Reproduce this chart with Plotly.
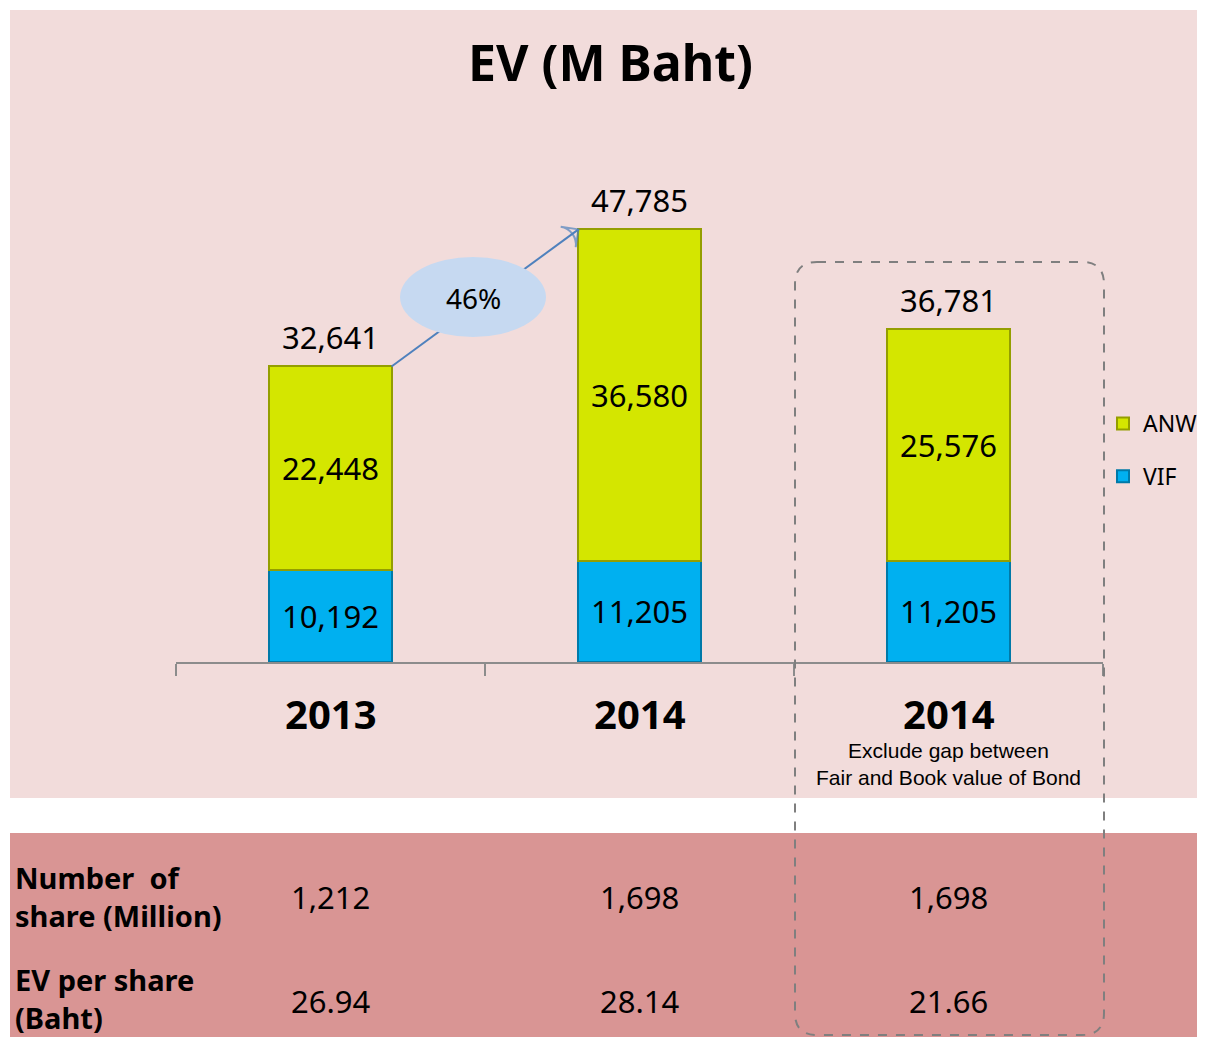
import plotly.graph_objects as go

# data
categories = ["2013", "2014", "2014"]
vif = [10192, 11205, 11205]
anw = [22448, 36580, 25576]
totals = [32641, 47785, 36781]
growth_label = "46%"
shares_million = ["1,212", "1,698", "1,698"]
ev_per_share = ["26.94", "28.14", "21.66"]
note_third = "Exclude gap between<br>Fair and Book value of Bond"

# the page puts the figure 8px in from the top-left corner
OFF = 8
W, H = 1205 - OFF, 1037 - OFF
ML, MR, MT, MB = 176 - OFF, 102, 155 - OFF, 375
PW, PH = W - ML - MR, H - MT - MB
BAR_W = 0.395
FONT = "Noto Sans"


# screen pixel -> paper fraction
def X(px):
    return (px - OFF - ML) / PW


def Y(py):
    return (H - MB - (py - OFF)) / PH


xs = list(range(len(categories)))

fig = go.Figure()
fig.add_trace(go.Bar(
    x=xs, y=vif, name="VIF", width=BAR_W, legendgroup="vif", legendrank=2,
    marker=dict(color="#00B0F0", line=dict(color="#0079A8", width=2)),
    text=[f"{v:,}" for v in vif], textposition="inside", insidetextanchor="middle",
    textfont=dict(family=FONT, size=31, color="black"),
))
fig.add_trace(go.Bar(
    x=xs, y=anw, name="ANW", width=BAR_W, legendgroup="anw", legendrank=1,
    marker=dict(color="#D4E600", line=dict(color="#949E00", width=2)),
    text=[f"{v:,}" for v in anw], textposition="inside", insidetextanchor="middle",
    textfont=dict(family=FONT, size=31, color="black"),
))

# growth arrow from 2013 top to 2014 top
fig.add_trace(go.Scatter(
    x=[xs[0] + BAR_W / 2, xs[1] - BAR_W / 2], y=[totals[0], totals[1]],
    mode="lines+markers", showlegend=False, hoverinfo="skip",
    line=dict(color="#4F81BD", width=2),
    marker=dict(symbol=["circle", "arrow-wide-open"], size=[0, 18], angleref="previous",
                color="#4F81BD", line=dict(color="#4F81BD", width=2)),
))


def note(x, y, text, size, family=FONT, xref="x", xanchor="center"):
    return dict(x=x, y=y, xref=xref, yref="paper", text=text, showarrow=False,
                xanchor=xanchor, yanchor="middle", align=xanchor if xanchor != "center" else "center",
                font=dict(family=family, size=size, color="black"))


annotations = []
for i, t in enumerate(totals):
    annotations.append(dict(x=xs[i], y=t, text=f"{t:,}", showarrow=False, xanchor="center",
                            yanchor="bottom", yshift=6,
                            font=dict(family=FONT, size=31, color="black")))
    annotations.append(note(xs[i], Y(713), f"<b>{categories[i]}</b>", 40))
    annotations.append(note(xs[i], Y(897), shares_million[i], 31))
    annotations.append(note(xs[i], Y(1001), ev_per_share[i], 31))

annotations += [
    note(2, Y(764), note_third, 21, family="Liberation Sans"),
    note(X(473), Y(298), growth_label, 28, xref="paper"),
    note(X(610), Y(62), "<b>EV (M Baht)</b>", 50, xref="paper"),
    note(X(13), Y(896), "<b>Number&nbsp; of<br>share (Million)</b>", 29, xref="paper", xanchor="left"),
    note(X(13), Y(998), "<b>EV per share<br>(Baht)</b>", 29, xref="paper", xanchor="left"),
]

# dashed rounded box around the third column
bx0, by0, bx1, by1, r = 795, 262, 1104, 1035, 22
box_pts = [
    f"M{X(bx0 + r)},{Y(by0)}", f"L{X(bx1 - r)},{Y(by0)}", f"Q{X(bx1)},{Y(by0)} {X(bx1)},{Y(by0 + r)}",
    f"L{X(bx1)},{Y(by1 - r)}", f"Q{X(bx1)},{Y(by1)} {X(bx1 - r)},{Y(by1)}",
    f"L{X(bx0 + r)},{Y(by1)}", f"Q{X(bx0)},{Y(by1)} {X(bx0)},{Y(by1 - r)}",
    f"L{X(bx0)},{Y(by0 + r)}", f"Q{X(bx0)},{Y(by0)} {X(bx0 + r)},{Y(by0)}",
]

shapes = [
    dict(type="rect", xref="paper", yref="paper", x0=X(10), x1=X(1205), y0=Y(798), y1=Y(10),
         fillcolor="#F2DCDB", line_width=0, layer="below"),
    dict(type="rect", xref="paper", yref="paper", x0=X(10), x1=X(1205), y0=Y(1037), y1=Y(833),
         fillcolor="#D99594", line_width=0, layer="below"),
    dict(type="path", xref="paper", yref="paper", path=" ".join(box_pts),
         line=dict(color="#7F7F7F", width=2, dash="dash"), layer="above"),
    dict(type="circle", xref="paper", yref="paper", x0=X(400), x1=X(546), y0=Y(337), y1=Y(257),
         fillcolor="#C6D9F1", line_width=0, layer="above"),
]

fig.update_layout(
    width=W, height=H, autosize=False,
    margin=dict(l=ML, r=MR, t=MT, b=MB, autoexpand=False),
    barmode="stack",
    paper_bgcolor="white", plot_bgcolor="rgba(0,0,0,0)",
    showlegend=True,
    legend=dict(x=X(1103), y=Y(450), xanchor="left", yanchor="middle",
                traceorder="grouped", tracegroupgap=20, bgcolor="rgba(0,0,0,0)",
                font=dict(family=FONT, size=23, color="black"), itemwidth=30),
    shapes=shapes,
    annotations=annotations,
)
fig.update_xaxes(range=[-0.5, 2.5], tickvals=[-0.5, 0.5, 1.5, 2.5], showticklabels=False,
                 ticks="outside", ticklen=12, tickwidth=2, tickcolor="#8C8C8C",
                 showline=True, linecolor="#8C8C8C", linewidth=2, showgrid=False, zeroline=False)
fig.update_yaxes(range=[0, 56000], visible=False)

fig.write_html("out.html")
